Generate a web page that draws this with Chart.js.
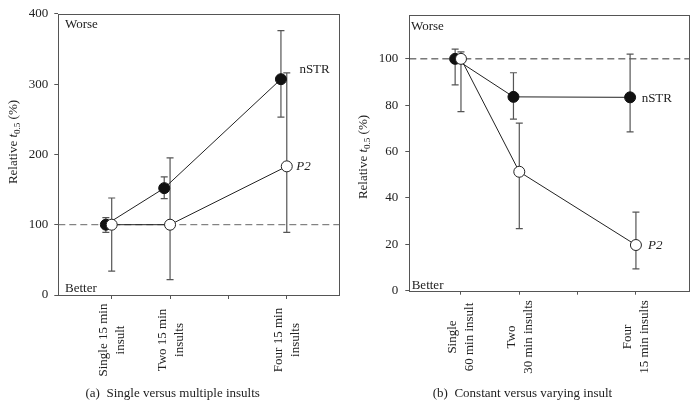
<!DOCTYPE html>
<html>
<head>
<meta charset="utf-8">
<script src="https://cdn.jsdelivr.net/npm/chart.js@4.4.1/dist/chart.umd.min.js"></script>
<style>
  html, body { margin: 0; padding: 0; background: #fff; }
  #wrap { position: relative; width: 700px; height: 406px; }
  canvas { position: absolute; top: 0; }
  #chartA { left: 0; }
  #chartB { left: 350px; }
</style>
</head>
<body>
<div id="wrap">
  <canvas id="chartA" width="350" height="406"></canvas>
  <canvas id="chartB" width="350" height="406"></canvas>
</div>
<script>
const SERIF = "'Liberation Serif', 'DejaVu Serif', serif"
const xTicks = [1, 2, 3, 4]
const dodge = -0.1   // filled points sit a little left of the open ones

// (a) single versus multiple insults
const catPosA = [1, 2, 4]
const catLabelsA = [['Single 15 min', 'insult'], ['Two 15 min', 'insults'], ['Four 15 min', 'insults']]
const nstrA = [100, 152, 307]
const nstrLowA = [89, 137, 253]
const nstrHighA = [110, 168, 376]
const p2A = [100, 100, 183]
const p2LowA = [34, 22, 89]
const p2HighA = [138, 195, 316]
const yTicksA = [0, 100, 200, 300, 400]

// (b) constant versus varying insult
const catPosB = [1, 2, 4]
const catLabelsB = [['Single', '60 min insult'], ['Two', '30 min insults'], ['Four', '15 min insults']]
const nstrB = [100, 83.6, 83.4]
const nstrLowB = [88.8, 74, 68.5]
const nstrHighB = [104.2, 94, 102]
const p2B = [100, 51.3, 19.7]
const p2LowB = [77.2, 26.8, 9.4]
const p2HighB = [103, 72.3, 33.9]
const yTicksB = [0, 20, 40, 60, 80, 100]

function drawYTitle(ctx, cx, cy) {
  const parts = [
    { t: 'Relative ', f: '13px ' + SERIF, dy: 0 },
    { t: 't', f: 'italic 13px ' + SERIF, dy: 0 },
    { t: '0.5', f: '9px ' + SERIF, dy: 3 },
    { t: ' (%)', f: '13px ' + SERIF, dy: 0 }
  ]
  let w = 0
  parts.forEach(p => { ctx.font = p.f; p.w = ctx.measureText(p.t).width; w += p.w })
  ctx.save()
  ctx.translate(cx, cy)
  ctx.rotate(-Math.PI / 2)
  ctx.textAlign = 'left'
  ctx.textBaseline = 'alphabetic'
  let pos = -w / 2
  parts.forEach(p => {
    ctx.font = p.f
    ctx.fillText(p.t, pos, p.dy)
    pos += p.w
  })
  ctx.restore()
}

function makePanel(id, p) {
  const decor = {
    id: 'decor',
    beforeDatasetsDraw(chart) {
      const { ctx, chartArea: a, scales: { x, y } } = chart
      ctx.save()
      // frame
      ctx.strokeStyle = '#555'
      ctx.lineWidth = 1
      ctx.strokeRect(Math.round(a.left) + 0.5, Math.round(a.top) + 0.5,
        Math.round(a.right - a.left), Math.round(a.bottom - a.top))
      // dashed 100 % line
      const yRef = y.getPixelForValue(100)
      ctx.strokeStyle = p.dashColor
      ctx.setLineDash([7, 4])
      ctx.beginPath()
      ctx.moveTo(a.left, yRef)
      ctx.lineTo(a.right, yRef)
      ctx.stroke()
      ctx.setLineDash([])
      // error bars
      ctx.strokeStyle = '#555'
      ctx.lineWidth = 1.2
      chart.data.datasets.forEach(ds => {
        ds.data.forEach((pt, i) => {
          const px = x.getPixelForValue(pt.x)
          const lo = y.getPixelForValue(ds.errLow[i])
          const hi = y.getPixelForValue(ds.errHigh[i])
          ctx.beginPath()
          ctx.moveTo(px, lo); ctx.lineTo(px, hi)
          ctx.moveTo(px - 3.5, lo); ctx.lineTo(px + 3.5, lo)
          ctx.moveTo(px - 3.5, hi); ctx.lineTo(px + 3.5, hi)
          ctx.stroke()
        })
      })
      ctx.restore()
    },
    afterDraw(chart) {
      const { ctx, chartArea: a, scales: { x, y } } = chart
      ctx.save()
      ctx.fillStyle = '#222'
      ctx.textAlign = 'left'
      ctx.textBaseline = 'alphabetic'
      ctx.font = '13px ' + SERIF
      ctx.fillText('Worse', a.left + p.worse[0], a.top + p.worse[1])
      ctx.fillText('Better', a.left + p.better[0], a.bottom - p.better[1])
      ctx.fillText('nSTR', x.getPixelForValue(p.nstrTag[0]), y.getPixelForValue(p.nstrTag[1]))
      ctx.font = 'italic 13px ' + SERIF
      ctx.fillText('P2', x.getPixelForValue(p.p2Tag[0]), y.getPixelForValue(p.p2Tag[1]))

      // rotated category labels
      ctx.font = '13px ' + SERIF
      ctx.textAlign = 'center'
      p.labels.forEach((lines, i) => {
        const px = x.getPixelForValue(p.pos[i])
        ctx.save()
        ctx.translate(px, p.labelY)
        ctx.rotate(-Math.PI / 2)
        lines.forEach((t, j) => ctx.fillText(t, 0, (j - (lines.length - 1) / 2) * 17 + 4))
        ctx.restore()
      })

      drawYTitle(ctx, p.titleX, p.titleY)

      ctx.font = '13px ' + SERIF
      ctx.textAlign = 'center'
      ctx.fillText(p.caption, p.captionX, 396.5)
      ctx.restore()
    }
  }

  const pts = (vals, shift) => vals.map((v, i) => ({ x: p.pos[i] + shift, y: v }))

  return new Chart(document.getElementById(id), {
    type: 'scatter',
    data: {
      datasets: [
        {
          label: 'P2',
          data: pts(p.p2, 0),
          errLow: p.p2Low,
          errHigh: p.p2High,
          order: 0,
          showLine: true,
          borderColor: '#222',
          borderWidth: 1,
          pointRadius: 5.5,
          pointBackgroundColor: '#fff',
          pointBorderColor: '#222',
          pointBorderWidth: 1
        },
        {
          label: 'nSTR',
          data: pts(p.nstr, dodge),
          errLow: p.nstrLow,
          errHigh: p.nstrHigh,
          order: 1,
          showLine: true,
          borderColor: '#222',
          borderWidth: 1,
          pointRadius: 5.5,
          pointBackgroundColor: '#111',
          pointBorderColor: '#111',
          pointBorderWidth: 1
        }
      ]
    },
    options: {
      responsive: false,
      animation: false,
      devicePixelRatio: 1,
      layout: { padding: { top: p.area.top, right: 350 - p.area.right, left: 0, bottom: 0 } },
      plugins: { legend: { display: false }, tooltip: { enabled: false } },
      scales: {
        x: {
          type: 'linear',
          min: p.xMin,
          max: p.xMax,
          afterBuildTicks: s => { s.ticks = xTicks.map(v => ({ value: v })) },
          afterFit: s => { s.height = 406 - p.area.bottom },
          ticks: { display: false },
          grid: { drawOnChartArea: false, tickLength: 4, color: '#555' },
          border: { display: false }
        },
        y: {
          type: 'linear',
          min: p.yMin,
          max: p.yMax,
          afterBuildTicks: s => { s.ticks = p.yTicks.map(v => ({ value: v })) },
          afterFit: s => { s.width = p.area.left },
          ticks: { font: { family: SERIF, size: 13 }, color: '#222', padding: p.tickPad },
          grid: { drawOnChartArea: false, tickLength: 4, color: '#555' },
          border: { display: false }
        }
      }
    },
    plugins: [decor]
  })
}

makePanel('chartA', {
  pos: catPosA, labels: catLabelsA,
  nstr: nstrA, nstrLow: nstrLowA, nstrHigh: nstrHighA,
  p2: p2A, p2Low: p2LowA, p2High: p2HighA,
  yTicks: yTicksA, yMin: 0, yMax: 400, xMin: 0.085, xMax: 4.9,
  area: { left: 58.3, top: 11, right: 339.3, bottom: 295 },
  tickPad: 6, dashColor: '#666',
  worse: [6.7, 14], better: [6.7, 3.3],
  nstrTag: [4.216, 316], p2Tag: [4.164, 177.5],
  labelY: 340, titleX: 16.5, titleY: 142,
  caption: '(a)  Single versus multiple insults', captionX: 172.7
})

makePanel('chartB', {
  pos: catPosB, labels: catLabelsB,
  nstr: nstrB, nstrLow: nstrLowB, nstrHigh: nstrHighB,
  p2: p2B, p2Low: p2LowB, p2High: p2HighB,
  yTicks: yTicksB, yMin: 0, yMax: 119, xMin: 0.114, xMax: 4.91,
  area: { left: 59.3, top: 7.3, right: 339, bottom: 290.7 },
  tickPad: 7, dashColor: '#333',
  worse: [1.7, 15], better: [2.4, 2],
  nstrTag: [4.098, 81.4], p2Tag: [4.209, 17.8],
  labelY: 337, titleX: 16.5, titleY: 157,
  caption: '(b)  Constant versus varying insult', captionX: 172.5
})
</script>
</body>
</html>
